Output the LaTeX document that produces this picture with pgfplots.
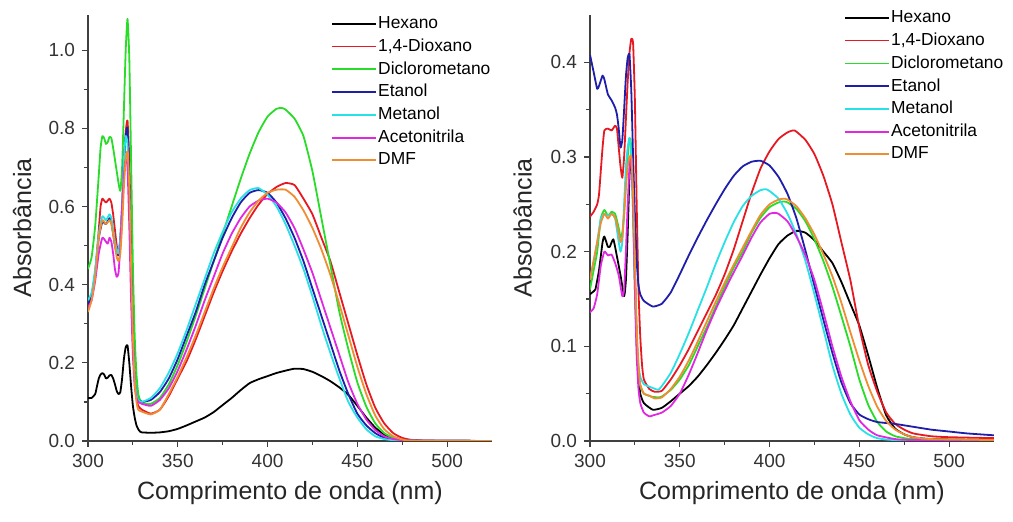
\documentclass[border=0pt]{standalone}
\usepackage{pgfplots}
\pgfplotsset{compat=1.18}
\usepackage{fontspec}
\setmainfont{Liberation Sans}
\setsansfont{Liberation Sans}

\definecolor{cRed}{RGB}{230,25,35}
\definecolor{cGreen}{RGB}{40,220,40}
\definecolor{cBlue}{RGB}{30,30,170}
\definecolor{cCyan}{RGB}{40,225,230}
\definecolor{cMag}{RGB}{225,40,225}
\definecolor{cOrg}{RGB}{240,140,50}

\pgfplotsset{panel/.style={
  scale only axis, width=202pt, height=213pt,
  axis x line*=bottom, axis y line*=left,
  axis line style={line width=0.7pt, black!75},
  tick align=outside,
  major tick length=3pt, minor tick length=1.8pt,
  every tick/.style={black!75, line width=0.6pt},
  xmin=300, xmax=525, xtick={300,350,...,500}, minor x tick num=1,
  ymin=0, minor y tick num=1, scaled y ticks=false,
  tick label style={font=\fontsize{9.5}{11}\selectfont, text=black!80},
  label style={font=\fontsize{12.5}{14}\selectfont, text=black!85},
  /pgf/number format/assume math mode=true,
  yticklabel style={/pgf/number format/.cd, fixed, fixed zerofill, precision=1, assume math mode=true},
  xlabel={Comprimento de onda (nm)}, ylabel={Absorbância},
  xlabel style={at={(axis description cs:0.5,-0.122)}, anchor=center},
  legend style={draw=none, fill=none, font=\fontsize{8.7}{10}\selectfont,
    legend cell align=left, row sep=2.4pt, inner sep=0pt,
    nodes={inner sep=0.6pt}},
  legend image code/.code={\draw[#1, line width=0.9pt] (0pt,0pt) -- (22pt,0pt);},
  every axis plot/.append style={line width=0.9pt, line join=round, smooth, tension=0.3},
}}

\begin{document}
\begin{tikzpicture}
\useasboundingbox (-44pt,-40.5pt) rectangle (462.5pt,220.5pt);

% ---- left panel ----
\begin{axis}[panel, ymax=1.09, ytick={0,0.2,...,1.0},
  ylabel style={at={(axis description cs:-0.163,0.5)}, anchor=center},
  legend style={at={(0.601,1.0)}, anchor=north west}]
\addplot[black] coordinates {(300,0.11)(302,0.11)(304,0.12)(305,0.14)(306,0.16)(307,0.17)(308,0.174)(309,0.17)(310,0.16)(311,0.162)(312,0.168)(313,0.169)(314,0.16)(315,0.145)(316,0.128)(317,0.12)(318,0.125)(319,0.16)(320,0.21)(321,0.24)(322,0.245)(323,0.2)(324,0.14)(325,0.09)(326,0.06)(327,0.04)(328,0.03)(329,0.024)(330,0.022)(335,0.021)(340,0.022)(345,0.025)(350,0.031)(355,0.04)(360,0.05)(365,0.06)(370,0.074)(375,0.092)(380,0.11)(385,0.13)(390,0.148)(395,0.158)(400,0.166)(405,0.174)(410,0.18)(415,0.185)(420,0.184)(425,0.177)(430,0.166)(435,0.153)(440,0.137)(445,0.118)(450,0.09)(455,0.06)(460,0.034)(465,0.016)(470,0.007)(475,0.003)(480,0.001)(525,0)};
\addplot[cRed] coordinates {(300,0.34)(302,0.37)(304,0.43)(306,0.54)(307,0.6)(308,0.62)(309,0.615)(310,0.61)(311,0.615)(312,0.62)(313,0.61)(314,0.58)(315,0.54)(316,0.5)(317,0.48)(318,0.5)(319,0.58)(320,0.7)(321,0.79)(322,0.82)(323,0.72)(324,0.5)(325,0.3)(326,0.17)(327,0.11)(328,0.09)(330,0.08)(335,0.07)(340,0.08)(345,0.115)(350,0.16)(355,0.205)(360,0.26)(365,0.32)(370,0.38)(375,0.435)(380,0.485)(385,0.53)(390,0.57)(395,0.605)(400,0.632)(405,0.65)(410,0.66)(415,0.655)(420,0.62)(425,0.58)(430,0.52)(435,0.46)(440,0.38)(445,0.3)(450,0.22)(455,0.145)(460,0.085)(465,0.045)(470,0.02)(475,0.008)(480,0.003)(490,0.001)(525,0)};
\addplot[cGreen] coordinates {(300,0.44)(302,0.47)(304,0.55)(306,0.68)(307,0.75)(308,0.78)(309,0.775)(310,0.76)(311,0.765)(312,0.778)(313,0.775)(314,0.75)(315,0.72)(316,0.69)(317,0.66)(318,0.64)(319,0.7)(320,0.85)(321,1.0)(322,1.08)(323,0.98)(324,0.72)(325,0.45)(326,0.27)(327,0.17)(328,0.12)(329,0.105)(330,0.1)(332,0.095)(335,0.095)(340,0.11)(345,0.145)(350,0.195)(355,0.255)(360,0.32)(365,0.39)(370,0.46)(375,0.53)(380,0.6)(385,0.67)(390,0.735)(395,0.79)(400,0.83)(405,0.85)(408,0.852)(410,0.848)(415,0.825)(420,0.78)(425,0.69)(430,0.57)(435,0.45)(440,0.33)(445,0.235)(450,0.15)(455,0.088)(460,0.045)(465,0.02)(470,0.008)(475,0.003)(480,0.001)(525,0)};
\addplot[cBlue] coordinates {(300,0.35)(302,0.37)(304,0.43)(306,0.52)(308,0.56)(310,0.555)(312,0.57)(313,0.56)(314,0.53)(315,0.5)(316,0.48)(317,0.475)(318,0.52)(319,0.6)(320,0.72)(321,0.78)(322,0.8)(323,0.66)(324,0.45)(325,0.27)(326,0.16)(327,0.12)(328,0.105)(330,0.1)(335,0.105)(340,0.125)(345,0.16)(350,0.21)(355,0.27)(360,0.33)(365,0.4)(370,0.46)(375,0.52)(380,0.57)(385,0.61)(390,0.635)(395,0.642)(400,0.635)(405,0.61)(410,0.57)(415,0.52)(420,0.46)(425,0.39)(430,0.32)(435,0.25)(440,0.18)(445,0.12)(450,0.07)(455,0.04)(460,0.02)(465,0.008)(470,0.003)(480,0.001)(525,0)};
\addplot[cCyan] coordinates {(300,0.36)(302,0.38)(304,0.44)(306,0.53)(308,0.575)(310,0.565)(312,0.58)(313,0.57)(314,0.54)(315,0.51)(316,0.49)(317,0.48)(318,0.52)(319,0.6)(320,0.72)(321,0.78)(322,0.76)(323,0.62)(324,0.42)(325,0.25)(326,0.16)(327,0.12)(328,0.105)(330,0.1)(335,0.11)(340,0.135)(345,0.175)(350,0.225)(355,0.285)(360,0.35)(365,0.415)(370,0.48)(375,0.535)(380,0.585)(385,0.62)(390,0.642)(395,0.647)(400,0.63)(405,0.6)(410,0.555)(415,0.5)(420,0.44)(425,0.37)(430,0.295)(435,0.225)(440,0.16)(445,0.1)(450,0.06)(455,0.03)(460,0.012)(465,0.005)(470,0.002)(480,0)(525,0)};
\addplot[cMag] coordinates {(300,0.34)(302,0.36)(304,0.41)(306,0.48)(308,0.52)(310,0.51)(311,0.505)(312,0.52)(313,0.51)(314,0.48)(315,0.44)(316,0.42)(317,0.43)(318,0.5)(319,0.6)(320,0.68)(321,0.72)(322,0.7)(323,0.55)(324,0.36)(325,0.22)(326,0.14)(327,0.11)(328,0.1)(330,0.095)(335,0.09)(340,0.105)(345,0.135)(350,0.18)(355,0.235)(360,0.295)(365,0.36)(370,0.42)(375,0.48)(380,0.53)(385,0.57)(390,0.6)(395,0.615)(400,0.62)(405,0.61)(410,0.585)(415,0.545)(420,0.49)(425,0.43)(430,0.36)(435,0.29)(440,0.22)(445,0.15)(450,0.095)(455,0.055)(460,0.028)(465,0.012)(470,0.005)(480,0.001)(525,0)};
\addplot[cOrg] coordinates {(300,0.33)(302,0.36)(304,0.42)(306,0.52)(308,0.565)(310,0.555)(312,0.565)(313,0.555)(314,0.53)(315,0.5)(316,0.47)(317,0.46)(318,0.48)(319,0.55)(320,0.65)(321,0.72)(322,0.74)(323,0.65)(324,0.45)(325,0.27)(326,0.15)(327,0.1)(328,0.08)(330,0.075)(335,0.068)(340,0.08)(345,0.12)(350,0.165)(355,0.215)(360,0.27)(365,0.33)(370,0.39)(375,0.445)(380,0.495)(385,0.545)(390,0.585)(395,0.615)(400,0.635)(405,0.643)(410,0.643)(415,0.625)(420,0.59)(425,0.545)(430,0.49)(435,0.425)(440,0.35)(445,0.27)(450,0.19)(455,0.12)(460,0.065)(465,0.03)(470,0.012)(475,0.004)(480,0.001)(525,0)};
\legend{Hexano,1{,}4-Dioxano,Diclorometano,Etanol,Metanol,Acetonitrila,DMF}
\end{axis}

% ---- right panel ----
\begin{axis}[panel, at={(251pt,0pt)}, anchor=south west,
  ymax=0.45, ytick={0,0.1,...,0.4},
  ylabel style={at={(axis description cs:-0.167,0.5)}, anchor=center},
  legend style={at={(0.628,1.014)}, anchor=north west}]
\addplot[black] coordinates {(300,0.155)(302,0.158)(303,0.16)(305,0.18)(307,0.21)(308,0.216)(310,0.205)(311,0.205)(313,0.213)(315,0.195)(317,0.175)(319,0.153)(320,0.17)(321,0.22)(322,0.28)(323,0.3)(324,0.26)(325,0.18)(326,0.11)(327,0.07)(328,0.05)(330,0.04)(335,0.033)(340,0.035)(345,0.042)(350,0.05)(355,0.058)(360,0.068)(365,0.08)(370,0.093)(375,0.107)(380,0.122)(385,0.14)(390,0.158)(395,0.176)(400,0.193)(405,0.208)(410,0.217)(415,0.222)(420,0.22)(425,0.212)(430,0.2)(435,0.188)(440,0.168)(445,0.145)(450,0.122)(455,0.09)(460,0.056)(465,0.027)(470,0.013)(475,0.007)(480,0.004)(490,0.002)(525,0.001)};
\addplot[cRed] coordinates {(300,0.237)(302,0.242)(304,0.25)(305,0.26)(306,0.285)(307,0.31)(308,0.328)(310,0.33)(312,0.328)(314,0.333)(315,0.33)(316,0.31)(317,0.29)(318,0.278)(319,0.3)(320,0.34)(321,0.38)(322,0.41)(323,0.425)(324,0.42)(325,0.36)(326,0.25)(327,0.16)(328,0.11)(329,0.08)(330,0.065)(333,0.055)(336,0.052)(340,0.053)(345,0.065)(350,0.08)(355,0.097)(360,0.116)(365,0.135)(370,0.154)(375,0.176)(380,0.202)(385,0.232)(390,0.262)(395,0.288)(400,0.306)(405,0.319)(410,0.326)(414,0.328)(420,0.318)(425,0.303)(430,0.28)(435,0.25)(440,0.21)(445,0.17)(450,0.12)(455,0.08)(460,0.052)(465,0.03)(470,0.018)(475,0.012)(480,0.008)(490,0.005)(500,0.004)(525,0.003)};
\addplot[cGreen] coordinates {(300,0.16)(302,0.18)(304,0.2)(306,0.235)(308,0.244)(310,0.238)(312,0.242)(314,0.24)(316,0.225)(317,0.215)(318,0.22)(319,0.24)(320,0.27)(321,0.3)(322,0.32)(323,0.31)(324,0.24)(325,0.16)(326,0.1)(327,0.07)(328,0.058)(330,0.05)(334,0.047)(338,0.046)(340,0.047)(345,0.054)(350,0.065)(355,0.08)(360,0.1)(365,0.12)(370,0.142)(375,0.163)(380,0.183)(385,0.2)(390,0.22)(395,0.236)(400,0.247)(405,0.252)(408,0.253)(410,0.252)(415,0.245)(420,0.232)(425,0.213)(430,0.19)(435,0.163)(440,0.132)(445,0.1)(450,0.065)(455,0.038)(460,0.02)(465,0.01)(470,0.005)(480,0.002)(525,0)};
\addplot[cBlue] coordinates {(300,0.408)(302,0.39)(304,0.372)(305,0.375)(307,0.386)(308,0.382)(310,0.366)(312,0.36)(314,0.352)(315,0.345)(316,0.33)(317,0.31)(318,0.318)(319,0.35)(320,0.385)(321,0.405)(322,0.408)(323,0.37)(324,0.3)(325,0.24)(326,0.19)(327,0.165)(328,0.155)(330,0.148)(335,0.142)(340,0.145)(345,0.157)(350,0.176)(355,0.196)(360,0.215)(365,0.233)(370,0.25)(375,0.266)(380,0.28)(385,0.29)(390,0.295)(395,0.296)(400,0.291)(405,0.279)(410,0.261)(415,0.235)(420,0.201)(425,0.164)(430,0.128)(435,0.093)(440,0.062)(445,0.04)(450,0.028)(455,0.023)(460,0.02)(470,0.018)(480,0.015)(490,0.012)(500,0.01)(510,0.008)(525,0.006)};
\addplot[cCyan] coordinates {(300,0.17)(302,0.19)(304,0.21)(306,0.235)(308,0.24)(310,0.238)(312,0.24)(314,0.235)(316,0.21)(317,0.2)(318,0.21)(319,0.25)(320,0.29)(321,0.31)(322,0.32)(323,0.3)(324,0.24)(325,0.17)(326,0.11)(327,0.08)(328,0.068)(330,0.06)(335,0.056)(338,0.054)(340,0.058)(345,0.072)(350,0.092)(355,0.114)(360,0.138)(365,0.162)(370,0.187)(375,0.21)(380,0.231)(385,0.248)(390,0.259)(395,0.265)(398,0.266)(400,0.264)(405,0.256)(410,0.24)(415,0.218)(420,0.19)(425,0.155)(430,0.118)(435,0.08)(440,0.05)(445,0.028)(450,0.014)(455,0.007)(460,0.003)(470,0.001)(525,0)};
\addplot[cMag] coordinates {(300,0.136)(302,0.14)(304,0.155)(306,0.185)(308,0.2)(310,0.196)(312,0.197)(314,0.188)(316,0.175)(318,0.153)(319,0.16)(320,0.2)(321,0.25)(322,0.29)(323,0.3)(324,0.25)(325,0.16)(326,0.09)(327,0.055)(328,0.04)(330,0.03)(333,0.026)(335,0.027)(340,0.03)(345,0.037)(350,0.05)(355,0.07)(360,0.093)(365,0.117)(370,0.139)(375,0.159)(380,0.178)(385,0.196)(390,0.215)(395,0.231)(400,0.24)(403,0.241)(405,0.24)(410,0.232)(415,0.216)(420,0.196)(425,0.17)(430,0.136)(435,0.1)(440,0.068)(445,0.042)(450,0.022)(455,0.012)(460,0.006)(470,0.002)(480,0.001)(525,0)};
\addplot[cOrg] coordinates {(300,0.17)(302,0.19)(304,0.21)(306,0.23)(308,0.24)(310,0.235)(312,0.24)(314,0.236)(316,0.22)(317,0.21)(318,0.215)(319,0.24)(320,0.27)(321,0.29)(322,0.3)(323,0.3)(324,0.26)(325,0.19)(326,0.12)(327,0.08)(328,0.06)(330,0.05)(333,0.048)(336,0.045)(340,0.046)(345,0.055)(350,0.068)(355,0.085)(360,0.105)(365,0.126)(370,0.147)(375,0.167)(380,0.186)(385,0.204)(390,0.222)(395,0.239)(400,0.25)(405,0.255)(408,0.256)(410,0.255)(415,0.248)(420,0.235)(425,0.218)(430,0.197)(435,0.174)(440,0.146)(445,0.115)(450,0.085)(455,0.058)(460,0.036)(465,0.021)(470,0.012)(475,0.007)(480,0.004)(490,0.002)(525,0.001)};
\legend{Hexano,1{,}4-Dioxano,Diclorometano,Etanol,Metanol,Acetonitrila,DMF}
\end{axis}
\end{tikzpicture}
\end{document}
